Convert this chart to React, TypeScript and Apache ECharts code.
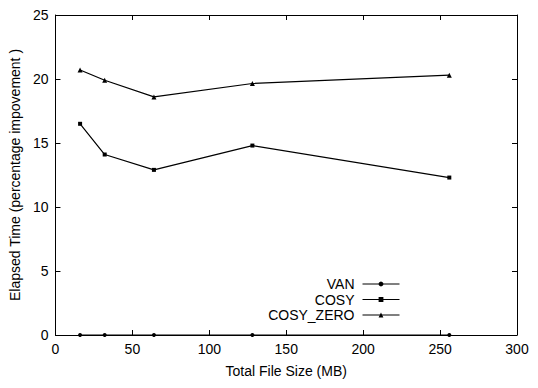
import React, { useEffect, useRef } from "react";
import * as echarts from "echarts";

const fileSizes = [16, 32, 64, 128, 256];
const vanValues = [0, 0, 0, 0, 0];
const cosyValues = [16.5, 14.1, 12.9, 14.8, 12.3];
const cosyZeroValues = [20.7, 19.9, 18.6, 19.65, 20.3];
const xTicks = { min: 0, max: 300, interval: 50 };
const yTicks = { min: 0, max: 25, interval: 5 };

const FONT = "Liberation Sans, Arial, Helvetica, sans-serif";
const FS = 14;

export default function App() {
  const ref = useRef<HTMLDivElement>(null);
  useEffect(() => {
    if (!ref.current) return;
    const chart = echarts.init(ref.current, undefined, { renderer: "svg" });
    const axisCommon = {
      axisLine: { show: true, onZero: false, lineStyle: { color: "#000", width: 1 } },
      axisTick: { show: true, inside: true, length: 5, lineStyle: { color: "#000" } },
      splitLine: { show: false },
    };
    const mk = (name: string, vals: number[], symbol: string, size: number) => ({
      name,
      type: "line",
      data: fileSizes.map((x, i) => [x, vals[i]]),
      symbol,
      symbolSize: size,
      showAllSymbol: true,
      lineStyle: { color: "#000", width: 1.2 },
      itemStyle: { color: "#000" },
      xAxisIndex: 0,
      yAxisIndex: 0,
    });
    chart.setOption({
      animation: false,
      backgroundColor: "#fff",
      grid: { left: 55, right: 21, top: 15, bottom: 53, containLabel: false },
      xAxis: [
        {
          type: "value",
          ...xTicks,
          position: "bottom",
          ...axisCommon,
          axisLabel: { color: "#000", fontFamily: FONT, fontSize: FS, margin: 7 },
          name: "Total File Size (MB)",
          nameLocation: "middle",
          nameGap: 29,
          nameTextStyle: { color: "#000", fontFamily: FONT, fontSize: FS },
        },
        {
          type: "value",
          ...xTicks,
          position: "top",
          ...axisCommon,
          axisLabel: { show: false },
        },
      ],
      yAxis: [
        {
          type: "value",
          ...yTicks,
          position: "left",
          ...axisCommon,
          axisLabel: { color: "#000", fontFamily: FONT, fontSize: FS, margin: 7 },
          name: "Elapsed Time (percentage impovement )",
          nameLocation: "middle",
          nameGap: 30,
          nameTextStyle: { color: "#000", fontFamily: FONT, fontSize: FS },
        },
        {
          type: "value",
          ...yTicks,
          position: "right",
          ...axisCommon,
          axisLabel: { show: false },
        },
      ],
      legend: {
        orient: "vertical",
        align: "right",
        right: 138,
        top: 277,
        padding: 0,
        itemWidth: 37,
        itemHeight: 6,
        itemGap: 1.5,
        lineStyle: { width: 1 },
        textStyle: {
          color: "#000",
          fontFamily: FONT,
          fontSize: FS,
          lineHeight: 13,
          padding: [0, 3, 0, 0],
        },
        data: ["VAN", "COSY", "COSY_ZERO"],
      },
      series: [
        mk("VAN", vanValues, "circle", 4),
        mk("COSY", cosyValues, "rect", 4),
        mk("COSY_ZERO", cosyZeroValues, "triangle", 5),
      ],
    });
    return () => chart.dispose();
  }, []);
  return (
    <div
      ref={ref}
      style={{ position: "fixed", left: 0, top: 0, width: 538, height: 388 }}
    />
  );
}
